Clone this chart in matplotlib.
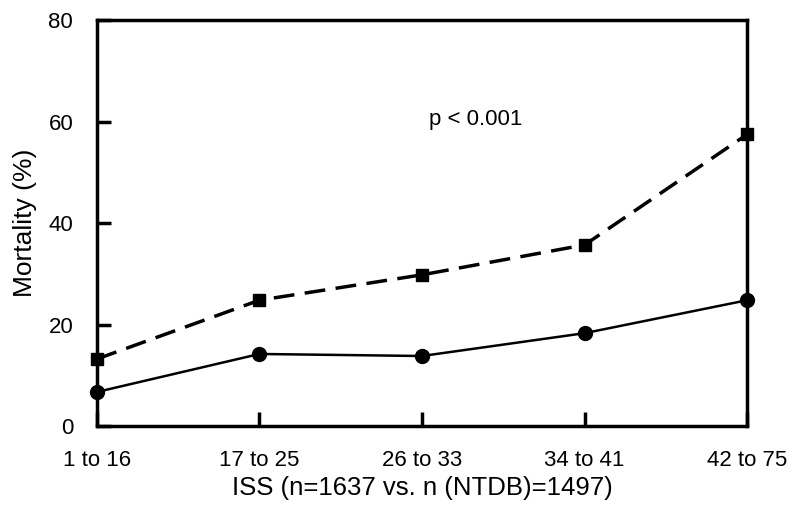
import matplotlib.pyplot as plt

plt.rcParams['font.family'] = ['Liberation Sans', 'DejaVu Sans']

categories = ["1 to 16", "17 to 25", "26 to 33", "34 to 41", "42 to 75"]
study = [6.7, 14.2, 13.8, 18.3, 24.8]
ntdb = [13.2, 24.8, 29.8, 35.7, 57.5]

fig = plt.figure(figsize=(8, 5.17), dpi=100)
ax = fig.add_axes([0.121, 0.176, 0.813, 0.785])

x = range(len(categories))
ax.plot(x, ntdb, color='black', linestyle=(0, (6, 3)), linewidth=2.5,
        marker='s', markersize=9, clip_on=False, zorder=3)
ax.plot(x, study, color='black', linestyle='-', linewidth=1.8,
        marker='o', markersize=10, clip_on=False, zorder=3)

ax.set_xlim(0, len(categories) - 1)
ax.set_ylim(0, 80)
ax.set_xticks(list(x))
ax.set_xticklabels(categories)
ax.set_yticks([0, 20, 40, 60, 80])

for s in ax.spines.values():
    s.set_linewidth(2.5)

ax.tick_params(direction='in', length=10, width=2.5, labelsize=16, pad=17)
ax.tick_params(axis='x', pad=17)

ax.set_xlabel("ISS (n=1637 vs. n (NTDB)=1497)", fontsize=18.5, labelpad=4)
ax.set_ylabel("Mortality (%)", fontsize=19, labelpad=8)

ax.text(2.33, 60.5, "p < 0.001", fontsize=16, ha='center', va='center')

fig.savefig("out.png", dpi=100)
